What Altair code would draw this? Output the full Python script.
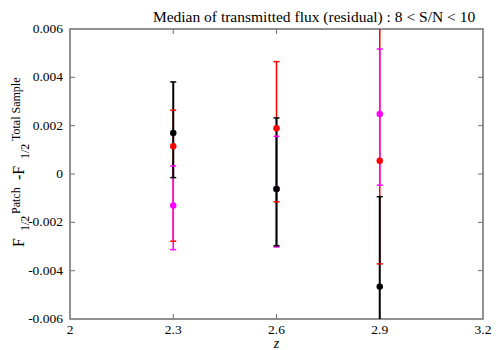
import altair as alt
import pandas as pd

# ---- data ----
z = [2.3, 2.6, 2.9]

red_med = [0.00115, 0.00189, 0.00055]
red_lo = [-0.00278, -0.00115, -0.00372]
red_hi = [0.00264, 0.00465, 0.0075]

mag_med = [-0.0013, -0.00062, 0.00248]
mag_lo = [-0.00313, -0.00302, -0.00046]
mag_hi = [0.00033, 0.00156, 0.00517]

blk_med = [0.0017, -0.00062, -0.00466]
blk_lo = [-0.00015, -0.00297, -0.0085]
blk_hi = [0.00381, 0.00232, -0.00094]

x_ticks = [2, 2.3, 2.6, 2.9, 3.2]
x_labels = ["2", "2.3", "2.6", "2.9", "3.2"]
y_ticks = [-0.006, -0.004, -0.002, 0, 0.002, 0.004, 0.006]
y_labels = ["-0.006", "-0.004", "-0.002", "0", "0.002", "0.004", "0.006"]
x_inner = [2.3, 2.6, 2.9]
y_inner = [-0.004, -0.002, 0, 0.002, 0.004]

title_text = "Median of transmitted flux (residual) : 8 < S/N < 10"
x_title = "z"
ylab_parts = ["F", "1/2", "Patch", "-F", "1/2", "Total Sample"]

W, H = 413, 290
FONT = "Liberation Serif"
FRAME = "#6e6e6e"

series = [
    ("red", "#ff0000", red_med, red_lo, red_hi, 1.5),
    ("magenta", "#ff00ff", mag_med, mag_lo, mag_hi, 1.6),
    ("black", "#000000", blk_med, blk_lo, blk_hi, 2.0),
]

xs = alt.Scale(domain=[2, 3.2], nice=False, zero=False)
ys = alt.Scale(domain=[-0.006, 0.006], nice=False, zero=False)


def X(f):
    return alt.X(f, type="quantitative", scale=xs, axis=None)


def Y(f):
    return alt.Y(f, type="quantitative", scale=ys, axis=None)


layers = []

# inward ticks (gnuplot style)
xt = pd.DataFrame({"t": x_inner})
yt = pd.DataFrame({"t": y_inner})
tl = 5
layers.append(alt.Chart(xt).mark_rule(color=FRAME, strokeWidth=1).encode(
    x=X("t"), y=alt.value(H), y2=alt.value(H - tl)))
layers.append(alt.Chart(xt).mark_rule(color=FRAME, strokeWidth=1).encode(
    x=X("t"), y=alt.value(0), y2=alt.value(tl)))
layers.append(alt.Chart(yt).mark_rule(color=FRAME, strokeWidth=1).encode(
    y=Y("t"), x=alt.value(0), x2=alt.value(tl)))
layers.append(alt.Chart(yt).mark_rule(color=FRAME, strokeWidth=1).encode(
    y=Y("t"), x=alt.value(W), x2=alt.value(W - tl)))

# tick labels
xl = pd.DataFrame({"t": x_ticks, "lab": x_labels})
yl = pd.DataFrame({"t": y_ticks, "lab": y_labels})
layers.append(alt.Chart(xl).mark_text(font=FONT, fontSize=13.5, color="black", align="center",
                                      baseline="top").encode(
    x=X("t"), y=alt.value(H + 4), text="lab:N"))
layers.append(alt.Chart(yl).mark_text(font=FONT, fontSize=13.5, color="black", align="right",
                                      baseline="middle").encode(
    y=Y("t"), x=alt.value(-7), text="lab:N"))

frames = {}
for name, col, med, lo, hi, sw in series:
    frames[name] = pd.DataFrame({"z": z, "med": med, "lo": lo, "hi": hi})

# error bar lines
for name, col, med, lo, hi, sw in series:
    layers.append(alt.Chart(frames[name]).mark_rule(color=col, strokeWidth=sw, clip=True).encode(
        x=X("z"), y=Y("lo"), y2="hi"))

# caps
for name, col, med, lo, hi, sw in series:
    for f in ["lo", "hi"]:
        layers.append(alt.Chart(frames[name]).mark_tick(
            color=col, orient="horizontal", size=6, thickness=1.5, clip=True, opacity=1).encode(
            x=X("z"), y=Y(f)))

# points
for name in ["magenta", "red", "black"]:
    col = [s[1] for s in series if s[0] == name][0]
    layers.append(alt.Chart(frames[name]).mark_circle(color=col, size=42, opacity=1, clip=True).encode(
        x=X("z"), y=Y("med")))

# title
one = pd.DataFrame({"a": [0]})
layers.append(alt.Chart(one).mark_text(font=FONT, fontSize=15.5, color="black", align="center",
                                       baseline="alphabetic").encode(
    x=alt.value(244), y=alt.value(-7), text=alt.value(title_text)))

# x title
layers.append(alt.Chart(one).mark_text(font=FONT, fontSize=14, fontStyle="italic", color="black",
                                       align="center", baseline="alphabetic").encode(
    x=alt.value(W / 2), y=alt.value(H + 29), text=alt.value(x_title)))

# y-axis label built from pieces (page coords -> plot coords)
ox, oy = 70, 29
pieces = [
    (ylab_parts[0], 16, 24, 247),
    (ylab_parts[1], 12, 29, 231),
    (ylab_parts[2], 12, 20, 214),
    (ylab_parts[3], 16, 24, 180),
    (ylab_parts[4], 12, 29, 159),
    (ylab_parts[5], 12, 20, 141),
]
for txt, fs, px, py in pieces:
    layers.append(alt.Chart(one).mark_text(font=FONT, fontSize=fs, color="black", align="left",
                                           baseline="alphabetic", angle=270).encode(
        x=alt.value(px - ox), y=alt.value(py - oy), text=alt.value(txt)))

chart = alt.layer(*layers).properties(
    width=W, height=H,
    autosize=alt.AutoSizeParams(type="none"),
    padding={"left": 62, "top": 21, "right": 9, "bottom": 31},
    background="white",
).configure_view(stroke=FRAME, strokeWidth=1.5)

chart.save("out.html", embed_options={"renderer": "svg", "actions": False})
